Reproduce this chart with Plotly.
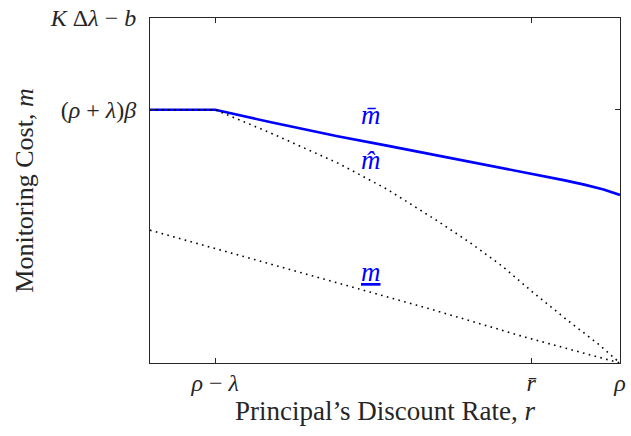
import plotly.graph_objects as go

# Principal's discount rate (normalised so that rho = 1)
r_bar_curve = [0.0, 0.1387, 0.26, 0.399, 0.504, 0.61, 0.714, 0.819, 0.88, 0.924, 0.965, 1.0]
m_bar = [0.734, 0.734, 0.697, 0.657, 0.630, 0.602, 0.575, 0.547, 0.530, 0.517, 0.503, 0.487]

r_hat_curve = [0.0, 0.1387, 0.258, 0.399, 0.504, 0.609, 0.683, 0.750, 0.819, 0.889, 0.952, 0.992, 1.0]
m_hat = [0.734, 0.734, 0.666, 0.580, 0.504, 0.414, 0.347, 0.280, 0.200, 0.123, 0.057, 0.009, 0.0]

r_low_curve = [0.0, 0.494, 0.595, 0.798, 0.900, 0.952, 1.0]
m_low = [0.385, 0.197, 0.157, 0.075, 0.038, 0.018, 0.0]

# axis ticks
x_tickvals = [0.1387, 0.811, 1.0]
x_ticktext = ["<i>ρ</i> − <i>λ</i>", "<i>r̄</i>", "<i>ρ</i>"]
y_tickvals = [0.734, 1.0]
y_ticktext = ["(<i>ρ</i> + <i>λ</i>)<i>β</i>", "<i>K</i> Δ<i>λ</i> − <i>b</i>"]

# curve labels
label_text = ["<i>m̄</i>", "<i>m̂</i>", "<u><i>m</i></u>"]
label_x = [0.470, 0.470, 0.470]
label_y = [0.718, 0.588, 0.265]

FONT = "Liberation Serif"
AXIS_COLOR = "#262626"
DOTS = "1.6px,4.4px"

fig = go.Figure()
fig.add_trace(go.Scatter(x=r_low_curve, y=m_low, mode="lines",
                         line=dict(color="black", width=1.6, dash=DOTS),
                         hoverinfo="skip"))
fig.add_trace(go.Scatter(x=r_bar_curve, y=m_bar, mode="lines",
                         line=dict(color="#0000ff", width=2.6),
                         hoverinfo="skip"))
fig.add_trace(go.Scatter(x=r_hat_curve, y=m_hat, mode="lines",
                         line=dict(color="black", width=1.6, dash=DOTS),
                         hoverinfo="skip"))

for t, x, y in zip(label_text, label_x, label_y):
    fig.add_annotation(x=x, y=y, xref="x", yref="y", text=t, showarrow=False,
                       font=dict(family=FONT, size=27, color="#0000ff"))

axis_common = dict(showline=True, linecolor=AXIS_COLOR, linewidth=1,
                   mirror="ticks", ticks="inside", ticklen=5, tickcolor=AXIS_COLOR,
                   showgrid=False, zeroline=False,
                   tickfont=dict(family=FONT, size=24, color="#262626"))

fig.update_xaxes(range=[0, 1], tickvals=x_tickvals, ticktext=x_ticktext,
                 ticklabelstandoff=-2,
                 title=dict(text="Principal’s Discount Rate, <i>r</i>",
                            font=dict(family=FONT, size=27, color="#262626"), standoff=4),
                 **axis_common)
fig.update_yaxes(range=[0, 1], tickvals=y_tickvals, ticktext=y_ticktext,
                 ticklabelstandoff=8,
                 title=dict(text="Monitoring Cost, <i>m</i>",
                            font=dict(family=FONT, size=26, color="#262626"), standoff=8),
                 **axis_common)

fig.update_layout(width=631, height=436, showlegend=False,
                  margin=dict(l=150, r=5, t=13, b=73),
                  plot_bgcolor="white", paper_bgcolor="white")

fig.write_html("out.html")
